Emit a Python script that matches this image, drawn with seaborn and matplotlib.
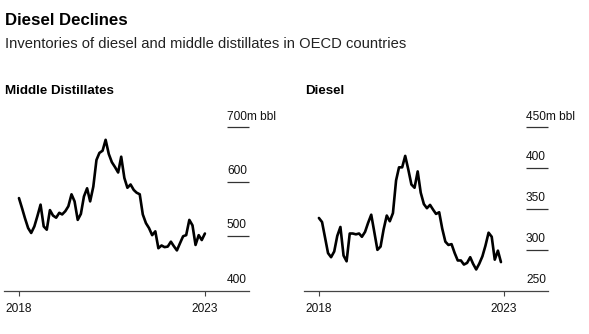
import numpy as np
import pandas as pd
import matplotlib
matplotlib.use("Agg")
import matplotlib.pyplot as plt
import seaborn as sns

# Monthly OECD inventories, million barrels, starting January 2018
middle_distillates = [
    570, 551, 533, 515, 506, 518, 537, 558, 518, 512, 548, 538,
    534, 543, 540, 546, 555, 577, 564, 530, 541, 573, 588, 564,
    591, 640, 653, 657, 677, 651, 636, 627, 617, 646, 607, 589,
    595, 585, 580, 577, 540, 524, 515, 502, 509, 478, 483, 480,
    481, 490, 482, 474, 487, 500, 502, 530, 520, 484, 502, 493,
    505,
]
diesel = [
    339, 334, 316, 296, 291, 298, 317, 328, 293, 286, 320, 320,
    319, 320, 316, 322, 333, 343, 322, 300, 304, 325, 342, 335,
    345, 385, 401, 401, 415, 398, 380, 376, 396, 370, 356, 351,
    355, 349, 344, 346, 326, 310, 306, 307, 296, 287, 287, 282,
    284, 291, 283, 276, 283, 292, 305, 321, 316, 288, 299, 285,
]
first_month = "2018-01-01"
x_tick_dates = ["2018-01-01", "2023-01-01"]
x_tick_labels = ["2018", "2023"]
mid_ticks = [400, 500, 600, 700]
diesel_ticks = [250, 300, 350, 400, 450]
unit = "m bbl"

title = "Diesel Declines"
subtitle = "Inventories of diesel and middle distillates in OECD countries"

sns.set_theme(style="white")
plt.rcParams["font.family"] = ["Liberation Sans", "DejaVu Sans"]

W, H = 589, 334
fig = plt.figure(figsize=(W / 100, H / 100), dpi=100)
fig.patch.set_facecolor("white")

fig.text(5 / W, 1 - 25 / H, title, fontsize=12.1, fontweight="bold",
         color="black", va="baseline", ha="left")
fig.text(5 / W, 1 - 48.5 / H, subtitle, fontsize=10.65, color="#222222",
         va="baseline", ha="left")

t0 = pd.Timestamp(first_month)
xlim = (t0 - pd.Timedelta(days=147), t0 + pd.Timedelta(days=2259))

axis_bottom_px = 290.7
axis_top_px = 127.3


def draw_panel(left_px, width_px, name, values, ticks):
    rect = [left_px / W, 1 - axis_bottom_px / H, width_px / W,
            (axis_bottom_px - axis_top_px) / H]
    ax = fig.add_axes(rect)
    frame = pd.DataFrame({
        "month": pd.date_range(first_month, periods=len(values), freq="MS"),
        "value": values,
    })
    sns.lineplot(data=frame, x="month", y="value", ax=ax, color="black",
                 linewidth=1.9, solid_joinstyle="round")
    ax.set_xlim(*xlim)
    ax.set_ylim(ticks[0], ticks[-1])
    ax.set_xlabel("")
    ax.set_ylabel("")
    ax.set_yticks([])
    for side in ("top", "right", "left"):
        ax.spines[side].set_visible(False)
    ax.spines["bottom"].set_color("#444444")
    ax.spines["bottom"].set_linewidth(0.9)
    ax.set_xticks([pd.Timestamp(d) for d in x_tick_dates])
    ax.set_xticklabels(x_tick_labels)
    ax.tick_params(axis="x", bottom=True, direction="out", length=3.5,
                   width=0.8, color="#444444", labelsize=8.6, pad=5.5,
                   labelcolor="#111111")

    # short gridlines on the right, labels sitting on top of them
    grid_start = 0.91
    ax.hlines(ticks[1:], grid_start, 1.0, transform=ax.get_yaxis_transform(),
              color="#333333", linewidth=0.9, clip_on=False)
    for i, t in enumerate(ticks):
        label = f"{t}{unit}" if i == len(ticks) - 1 else f"{t}"
        ax.annotate(label, xy=(grid_start, t),
                    xycoords=ax.get_yaxis_transform(),
                    xytext=(0, 5.6), textcoords="offset points",
                    ha="left", va="baseline", fontsize=8.6,
                    color="#111111", annotation_clip=False)

    fig.text((left_px + 1) / W, 1 - 94 / H, name, fontsize=9.6,
             fontweight="bold", color="black", va="baseline", ha="left")
    return ax


draw_panel(4, 245, "Middle Distillates", middle_distillates, mid_ticks)
draw_panel(304, 244, "Diesel", diesel, diesel_ticks)

fig.savefig("out.png", dpi=100, facecolor="white")
